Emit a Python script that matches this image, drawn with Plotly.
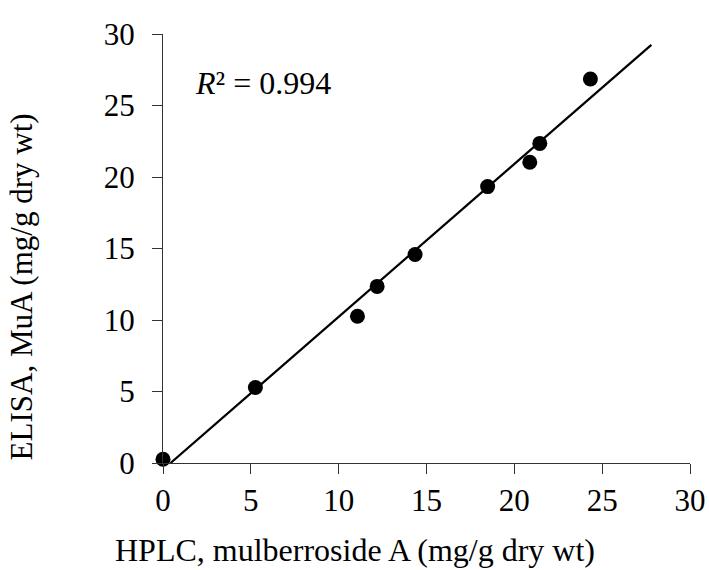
import plotly.graph_objects as go

# Data
hplc = [0.0, 5.26, 11.07, 12.19, 14.35, 18.48, 20.88, 21.45, 24.33]
elisa = [0.26, 5.28, 10.26, 12.35, 14.58, 19.33, 21.03, 22.35, 26.85]
fit_x = [0.43, 27.8]
fit_y = [0.0, 29.24]
ticks = [0, 5, 10, 15, 20, 25, 30]
r2_text = "<i>R</i>² = 0.994"
x_title = "HPLC, mulberroside A (mg/g dry wt)"
y_title = "ELISA, MuA (mg/g dry wt)"

FONT = "Liberation Serif"

fig = go.Figure()
fig.add_trace(go.Scatter(x=fit_x, y=fit_y, mode="lines",
                         line=dict(color="black", width=2.2),
                         showlegend=False, hoverinfo="skip"))
fig.add_trace(go.Scatter(x=hplc, y=elisa, mode="markers",
                         marker=dict(color="black", size=15),
                         cliponaxis=False, showlegend=False))

axis_common = dict(range=[0, 30], tickvals=ticks, ticks="outside", ticklen=10,
                   tickwidth=1.3, tickcolor="#333", showline=True, linecolor="#333",
                   linewidth=1.3, showgrid=False, zeroline=False, automargin=False,
                   tickfont=dict(family=FONT, size=31, color="black"))
fig.update_xaxes(**axis_common)
fig.update_yaxes(**axis_common, ticklabelstandoff=11)

fig.add_annotation(x=1.7, y=26.6, xref="x", yref="y", text=r2_text,
                   showarrow=False, xanchor="left", yanchor="middle",
                   font=dict(family=FONT, size=32, color="black"))
fig.add_annotation(x=0.364, y=-0.203, xref="paper", yref="paper", text=x_title,
                   showarrow=False, xanchor="center", yanchor="middle",
                   font=dict(family=FONT, size=32, color="black"))
fig.add_annotation(x=-0.268, y=0.411, xref="paper", yref="paper", text=y_title,
                   showarrow=False, xanchor="center", yanchor="middle", textangle=-90,
                   font=dict(family=FONT, size=31, color="black"))

fig.update_layout(width=709, height=570,
                  font=dict(family=FONT, color="black"),
                  margin=dict(l=162.5, r=19, t=34, b=107),
                  paper_bgcolor="white", plot_bgcolor="white")

fig.write_html("out.html", config={"displayModeBar": False},
               post_script="document.body.style.margin='0';document.body.style.padding='0';")
